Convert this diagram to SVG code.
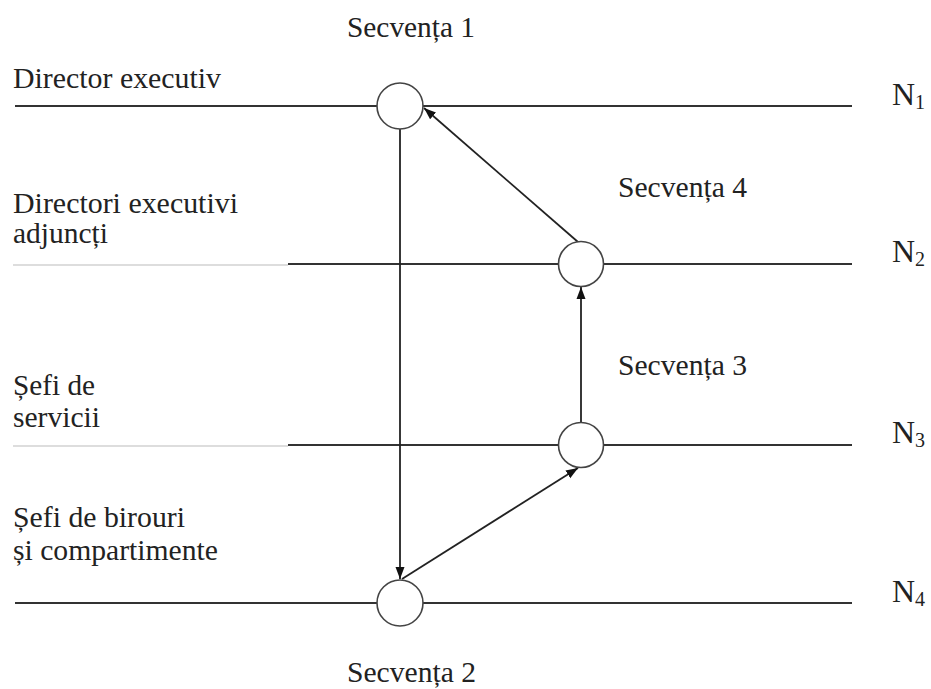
<svg xmlns="http://www.w3.org/2000/svg" width="931" height="689" viewBox="0 0 931 689">
<style>
text{font-family:"Liberation Serif","Times New Roman",serif;fill:#222;}
.t{font-size:29px;}
.n{font-size:32px;}
.s{font-size:20px;}
.lv{stroke:#333;stroke-width:2;fill:none;}
.lg{stroke:#bbb;stroke-width:1.2;fill:none;}
.c{stroke:#222;stroke-width:1.8;fill:none;}
.nd{fill:#fff;stroke:#444;stroke-width:1.6;}
</style>
<defs>
<marker id="ah" viewBox="0 0 12 10" refX="12" refY="5" markerWidth="12" markerHeight="10" markerUnits="userSpaceOnUse" orient="auto">
<path d="M0,0.5 L12,5 L0,9.5 z" fill="#111"/>
</marker>
</defs>
<rect width="931" height="689" fill="#fff"/>
<g id="levels">
<line class="lv" x1="15" y1="106" x2="852" y2="106"/>
<line class="lg" x1="13" y1="265" x2="288" y2="265"/>
<line class="lv" x1="288" y1="264" x2="852" y2="264"/>
<line class="lg" x1="13" y1="446" x2="288" y2="446"/>
<line class="lv" x1="288" y1="445" x2="852" y2="445"/>
<line class="lv" x1="15" y1="603" x2="852" y2="603"/>
</g>
<g id="level-labels">
<text class="t" x="13" y="88" textLength="208" lengthAdjust="spacingAndGlyphs">Director executiv</text>
<text class="t" x="13" y="213" textLength="225" lengthAdjust="spacingAndGlyphs">Directori executivi</text>
<text class="t" x="13" y="243" textLength="95" lengthAdjust="spacingAndGlyphs">adjuncți</text>
<text class="t" x="13" y="395" textLength="82" lengthAdjust="spacingAndGlyphs">Șefi de</text>
<text class="t" x="13" y="427" textLength="87" lengthAdjust="spacingAndGlyphs">servicii</text>
<text class="t" x="13" y="527" textLength="172" lengthAdjust="spacingAndGlyphs">Șefi de birouri</text>
<text class="t" x="13" y="560" textLength="205" lengthAdjust="spacingAndGlyphs">și compartimente</text>
</g>
<g id="level-ids">
<text class="n" x="892" y="105">N<tspan class="s" dy="4">1</tspan></text>
<text class="n" x="892" y="262">N<tspan class="s" dy="4">2</tspan></text>
<text class="n" x="892" y="443">N<tspan class="s" dy="4">3</tspan></text>
<text class="n" x="892" y="602">N<tspan class="s" dy="4">4</tspan></text>
</g>
<g id="connectors">
<line class="c" x1="400" y1="129" x2="400" y2="579" marker-end="url(#ah)"/>
<line class="c" x1="402" y1="579" x2="578" y2="468" marker-end="url(#ah)"/>
<line class="c" x1="581" y1="422" x2="581" y2="287" marker-end="url(#ah)"/>
<line class="c" x1="578" y1="242" x2="424" y2="108" marker-end="url(#ah)"/>
</g>
<g id="secventa1">
<circle class="nd" cx="400" cy="106" r="23"/>
<text class="t" x="347" y="37" textLength="128" lengthAdjust="spacingAndGlyphs">Secvența 1</text>
</g>
<g id="secventa2">
<circle class="nd" cx="400" cy="603" r="23"/>
<text class="t" x="347" y="682" textLength="129" lengthAdjust="spacingAndGlyphs">Secvența 2</text>
</g>
<g id="secventa3">
<circle class="nd" cx="581" cy="445" r="22.5"/>
<text class="t" x="618" y="375" textLength="129" lengthAdjust="spacingAndGlyphs">Secvența 3</text>
</g>
<g id="secventa4">
<circle class="nd" cx="581" cy="264" r="22.5"/>
<text class="t" x="618" y="197" textLength="129" lengthAdjust="spacingAndGlyphs">Secvența 4</text>
</g>
</svg>
